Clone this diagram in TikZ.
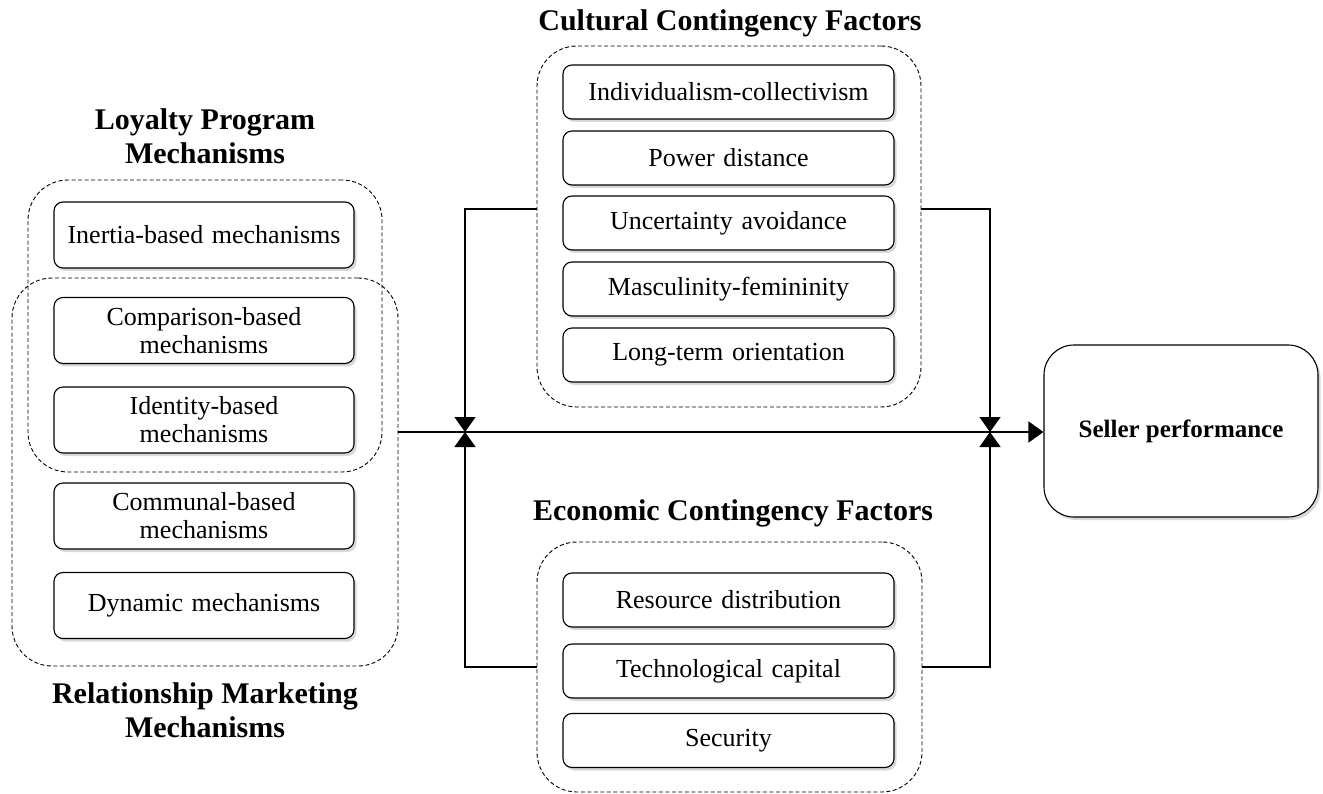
\documentclass[tikz,border=0pt]{standalone}
\usepackage{fontspec}
\setmainfont{Liberation Serif}
\usetikzlibrary{arrows.meta,shadows}

\begin{document}
\begin{tikzpicture}[x=1pt,y=-1pt,
	item/.style={draw, rounded corners=9pt, line width=1.1pt, fill=white, align=center, inner sep=3pt,
		drop shadow={shadow xshift=2.5pt, shadow yshift=-3pt, opacity=.3},
		font=\fontsize{26}{28}\selectfont},
	leftitem/.style={item, minimum width=300pt, minimum height=66pt, text width=290pt},
	miditem/.style={item, minimum width=331pt, minimum height=54pt, text width=320pt},
	group/.style={draw, dash pattern=on 4pt off 2.5pt, line width=.9pt, rounded corners=40pt},
	heading/.style={font=\fontsize{30}{34}\selectfont\bfseries, align=center},
	flow/.style={line width=1.5pt},
	tip/.style={-{Triangle[width=21pt,length=15pt]}}]
	\useasboundingbox[fill=white] (0,0) rectangle (1323,794);

	% groups
	\node[group, minimum width=354pt, minimum height=292pt] (loyalty) at (205,326) {};
	\node[group, minimum width=386pt, minimum height=388pt] (rel) at (205,472) {};
	\node[group, minimum width=384pt, minimum height=361pt] (cult) at (729,226.5) {};
	\node[group, minimum width=385pt, minimum height=250pt] (econ) at (729.5,667) {};

	% headings
	\node[heading] (lptitle) at (205,136) {Loyalty Program\\Mechanisms};
	\node[heading] (rmtitle) at (205,710) {Relationship Marketing\\Mechanisms};
	\node[heading, anchor=base] (cftitle) at (730,31) {Cultural Contingency Factors};
	\node[heading, anchor=base] (eftitle) at (733,520) {Economic Contingency Factors};

	% mechanisms
	\node[leftitem] (inertia) at (204,235) {Inertia-based mechanisms};
	\node[leftitem] (compare) at (204,330.5) {Comparison-based\\mechanisms};
	\node[leftitem] (identity) at (204,420) {Identity-based\\mechanisms};
	\node[leftitem] (communal) at (204,516) {Communal-based\\mechanisms};
	\node[leftitem] (dynamic) at (204,605.5) {Dynamic mechanisms};

	% cultural factors
	\node[miditem] (indiv) at (728.5,92) {Individualism-collectivism};
	\node[miditem] (power) at (728.5,158) {Power distance};
	\node[miditem] (uncert) at (728.5,223) {Uncertainty avoidance};
	\node[miditem] (masc) at (728.5,289) {Masculinity-femininity};
	\node[miditem] (longterm) at (728.5,355) {Long-term orientation};

	% economic factors
	\node[miditem] (resource) at (728.5,600) {Resource distribution};
	\node[miditem] (techcap) at (728.5,671) {Technological capital};
	\node[miditem] (security) at (728.5,740.5) {Security};

	% outcome
	\node[draw, rounded corners=30pt, line width=1.1pt, fill=white, minimum width=274pt, minimum height=172pt,
		drop shadow={shadow xshift=2.5pt, shadow yshift=-3pt, opacity=.3},
		font=\fontsize{25}{30}\selectfont\bfseries] (seller) at (1181,431) {Seller performance};

	% connectors
	\coordinate (jl) at (465,432);
	\coordinate (jr) at (990,432);
	\draw[flow,tip] (rel.east |- jl) -- (seller.west |- jl);
	\draw[flow,tip] ([yshift=17.5pt]cult.west) -| (jl);
	\draw[flow,tip] (econ.west) -| (jl);
	\draw[flow,tip] ([yshift=17.5pt]cult.east) -| (jr);
	\draw[flow,tip] (econ.east) -| (jr);
\end{tikzpicture}
\end{document}
